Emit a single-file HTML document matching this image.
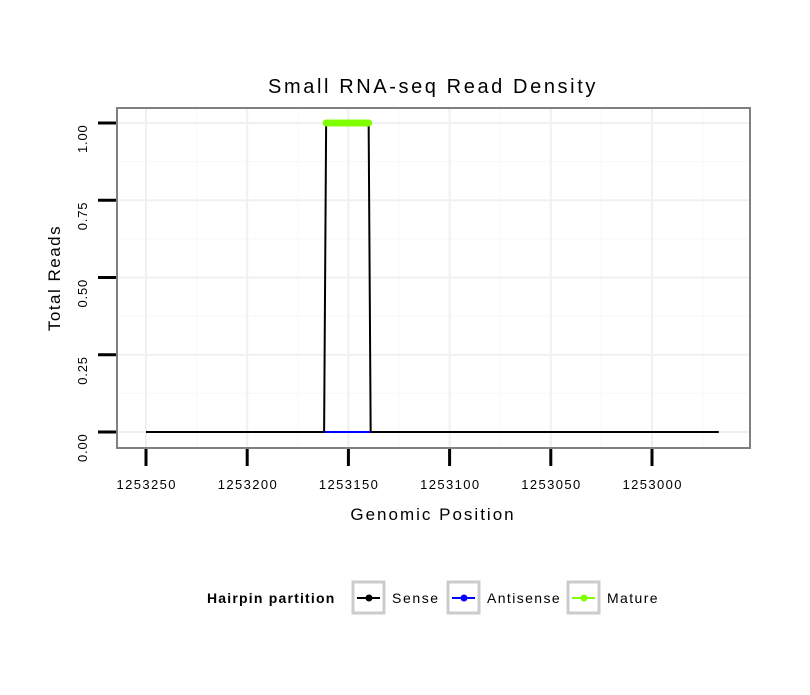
<!DOCTYPE html>
<html><head><meta charset="utf-8"><style>
body{margin:0;background:#fff;}
svg{font-family:"Liberation Sans",Arial,sans-serif;}
</style></head><body>
<svg id="c" width="810" height="690" xmlns="http://www.w3.org/2000/svg">
<rect width="810" height="690" fill="#fff"/>
<text x="433" y="93" font-size="20" letter-spacing="2.6" text-anchor="middle">Small RNA-seq Read Density</text>
<g id="grid"></g><g id="marks"></g><g id="axes"></g>
<rect x="117" y="108" width="633" height="340" fill="none" stroke="#808080" stroke-width="2"/>
<text x="433" y="520" font-size="17" letter-spacing="2" text-anchor="middle">Genomic Position</text>
<text transform="translate(60,278) rotate(-90)" font-size="17" letter-spacing="1.5" text-anchor="middle">Total Reads</text>
<g>
<text x="207" y="603" font-size="14" font-weight="bold" letter-spacing="1.2">Hairpin partition</text>
<g><rect x="353" y="582" width="31" height="31" fill="#fff" stroke="#ccc" stroke-width="3"/><line x1="357" y1="598" x2="380" y2="598" stroke="#000" stroke-width="2"/><circle cx="369" cy="598" r="3.5"/><text x="392" y="603" font-size="14" letter-spacing="1.6">Sense</text></g>
<g><rect x="448" y="582" width="31" height="31" fill="#fff" stroke="#ccc" stroke-width="3"/><line x1="452" y1="598" x2="475" y2="598" stroke="#00f" stroke-width="2"/><circle cx="464" cy="598" r="3.5" fill="#00f"/><text x="487" y="603" font-size="14" letter-spacing="1.4">Antisense</text></g>
<g><rect x="568" y="582" width="31" height="31" fill="#fff" stroke="#ccc" stroke-width="3"/><line x1="572" y1="598" x2="595" y2="598" stroke="#7fff00" stroke-width="2"/><circle cx="584" cy="598" r="3.5" fill="#7fff00"/><text x="607" y="603" font-size="14" letter-spacing="1.4">Mature</text></g>
</g>
</svg>
<script>
const xTicks=[1253250,1253200,1253150,1253100,1253050,1253000];
const yTicks=[0,0.25,0.5,0.75,1.0];
const yTickLabels=["0.00","0.25","0.50","0.75","1.00"];
const sensePos=[1253250,1253162,1253161,1253140,1253139,1252967];
const senseVal=[0,0,1,1,0,0];
const antiPos=[1253162,1253139];
const antiVal=[0,0];
const maturePos=[1253161,1253160,1253159,1253158,1253157,1253156,1253155,1253154,1253153,1253152,1253151,1253150,1253149,1253148,1253147,1253146,1253145,1253144,1253143,1253142,1253141,1253140];
const matureVal=[1,1,1,1,1,1,1,1,1,1,1,1,1,1,1,1,1,1,1,1,1,1];
const NS="http://www.w3.org/2000/svg";
function X(v){return 146+(1253250-v)*(506/250);}
function Y(v){return 432-v*309;}
function mk(t,a,p){const e=document.createElementNS(NS,t);for(const k in a)e.setAttribute(k,a[k]);p.appendChild(e);return e;}
const grid=document.getElementById('grid'),marks=document.getElementById('marks'),axes=document.getElementById('axes');
for(let i=0;i<xTicks.length;i++){const m=xTicks[i]-25;if(X(m)<750){const l=mk('line',{x1:X(m),x2:X(m),y1:108,y2:448,stroke:'#f7f7f7','stroke-width':1},grid);
 
 }}
for(let i=0;i<yTicks.length-1;i++){const m=yTicks[i]+0.125;const l=mk('line',{x1:117,x2:750,y1:Y(m),y2:Y(m),stroke:'#f7f7f7','stroke-width':1},grid);
 
 }
xTicks.forEach((v,i)=>{
 const g=mk('line',{x1:X(v),x2:X(v),y1:108,y2:448,stroke:'#f0f0f0','stroke-width':2},grid);
 
 
 const t=mk('line',{x1:X(v),x2:X(v),y1:448,y2:466,stroke:'#000','stroke-width':3},axes);
 
 
 const tx=mk('text',{x:X(v)+0.7,y:489,'font-size':13,'letter-spacing':1.4,'text-anchor':'middle'},axes);tx.textContent=v;
 
 
});
yTicks.forEach((v,i)=>{
 const g=mk('line',{x1:117,x2:750,y1:Y(v),y2:Y(v),stroke:'#f0f0f0','stroke-width':2},grid);
 
 
 const t=mk('line',{x1:98,x2:117,y1:Y(v),y2:Y(v),stroke:'#000','stroke-width':3},axes);
 
 
 const tx=mk('text',{transform:`translate(87,${Y(v)+30}) rotate(-90)`,'font-size':13,'letter-spacing':0.8,'text-anchor':'start'},axes);tx.textContent=yTickLabels[i];
 
 
});
function line(pos,val,col,name,w){const p=mk('polyline',{points:pos.map((v,i)=>X(v)+','+Y(val[i])).join(' '),fill:'none',stroke:col,'stroke-width':w},marks);
 
 }
line(sensePos,senseVal,'#000','sense-line',2);
line(antiPos,antiVal,'#00f','antisense-line',2);
line(maturePos,matureVal,'#7fff00','mature-line',2);
maturePos.forEach((v,i)=>{const c=mk('circle',{cx:X(v),cy:Y(matureVal[i]),r:3.5,fill:'#7fff00'},marks);
 
 });
</script>
</body></html>
